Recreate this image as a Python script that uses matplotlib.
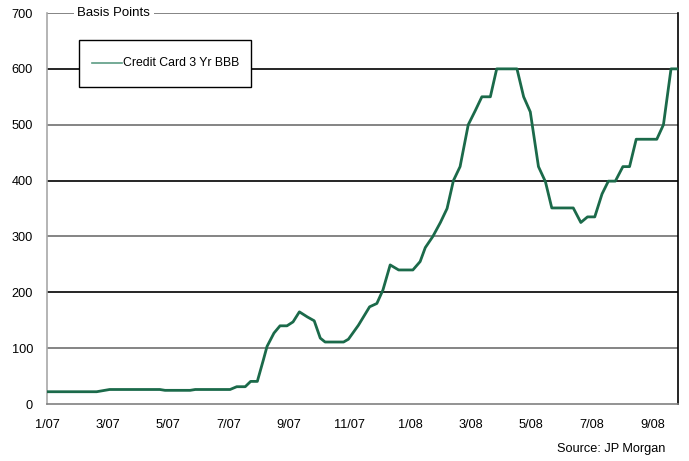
import matplotlib
matplotlib.use("Agg")
import matplotlib.pyplot as plt
from matplotlib.patches import Rectangle
from matplotlib.lines import Line2D

# months since Jan 2007 and spread in basis points
months = [0.0, 1.64, 2.07, 3.73, 3.9, 4.73, 4.9, 6.05, 6.27, 6.55, 6.73, 6.95, 7.15,
          7.27, 7.5, 7.7, 7.93, 8.13, 8.34, 8.6, 8.83, 9.03, 9.19, 9.8, 9.96, 10.29,
          10.66, 10.9, 11.1, 11.34, 11.62, 12.09, 12.33, 12.5, 12.75, 13.0, 13.22,
          13.43, 13.65, 13.92, 14.15, 14.37, 14.65, 14.86, 15.53, 15.75, 15.97, 16.24,
          16.47, 16.68, 17.39, 17.64, 17.86, 18.1, 18.34, 18.55, 18.78, 19.03, 19.25,
          19.47, 20.15, 20.37, 20.62, 20.85]
spread = [22, 22, 26, 26, 24.5, 24.5, 26, 26, 31, 31, 40.5, 40.5, 79,
          103, 127, 140, 140, 147, 165, 156, 149, 118, 111, 111, 116, 141,
          174, 180, 204, 249, 240, 240, 255, 280, 300, 325, 350,
          400, 425, 500, 525, 550, 550, 600, 600, 550, 523, 425,
          398, 351, 351, 325, 335, 335, 376, 399, 399, 425, 425,
          474, 474, 500, 600, 600]

tick_pos = [0, 2, 4, 6, 8, 10, 12, 14, 16, 18, 20]
tick_labels = ["1/07", "3/07", "5/07", "7/07", "9/07", "11/07",
               "1/08", "3/08", "5/08", "7/08", "9/08"]
y_ticks = [0, 100, 200, 300, 400, 500, 600, 700]

plt.rcParams["font.family"] = ["Liberation Sans", "DejaVu Sans"]

fig = plt.figure(figsize=(6.89, 4.61), dpi=100)
ax = fig.add_axes([0.0682, 0.1236, 0.9158, 0.8482])

# horizontal grid: black on even hundreds, grey on odd
for v in y_ticks[1:]:
    col = "#000000" if v % 200 == 0 else "#707070"
    ax.axhline(v, color=col, lw=1.2, zorder=1)

ax.plot(months, spread, color="#1b6a4a", lw=2.0, zorder=3, solid_joinstyle="round")

ax.set_xlim(0, 20.85)
ax.set_ylim(0, 700)
ax.set_xticks(tick_pos)
ax.set_xticklabels(tick_labels)
ax.set_yticks(y_ticks)
ax.tick_params(length=0, labelsize=9.2)
ax.tick_params(axis="x", pad=11)
ax.tick_params(axis="y", pad=10)

ax.spines["left"].set_color("#a8a8a8")
ax.spines["bottom"].set_color("#808080")
ax.spines["top"].set_visible(False)
ax.spines["right"].set_color("#000000")
for s in ax.spines.values():
    s.set_linewidth(1.2)

ax.text(0.048, 1.0, "Basis Points", transform=ax.transAxes, fontsize=9.5,
        va="center", ha="left", zorder=5,
        bbox=dict(facecolor="white", edgecolor="none", pad=2.5))

# legend box drawn by hand so its size matches the original
fig.add_artist(Rectangle((0.1147, 0.8113), 0.2496, 0.102, transform=fig.transFigure,
                         facecolor="white", edgecolor="black", lw=1.0, zorder=6))
fig.add_artist(Line2D([0.1335, 0.1771], [0.8633, 0.8633], transform=fig.transFigure,
                      color="#5c9c84", lw=1.2, zorder=7))
fig.text(0.1785, 0.8633, "Credit Card 3 Yr BBB", fontsize=8.8, va="center",
         ha="left", zorder=7)

fig.text(0.966, 0.012, "Source: JP Morgan", ha="right", va="bottom", fontsize=9.2)

fig.savefig("out.png", dpi=100)
